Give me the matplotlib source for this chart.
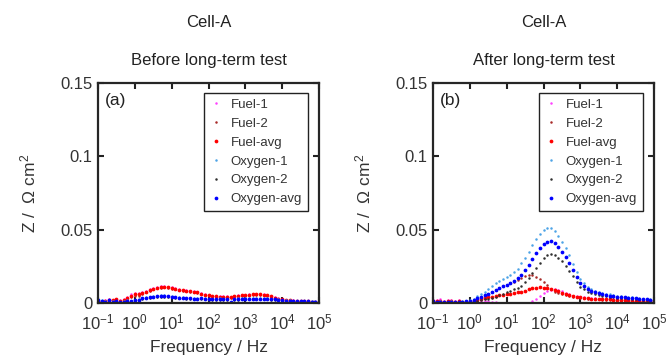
import matplotlib
matplotlib.use("Agg")
import matplotlib.pyplot as plt

plt.rcParams['font.family'] = ['Liberation Sans', 'DejaVu Sans']
plt.rcParams['mathtext.fontset'] = 'custom'
plt.rcParams['mathtext.rm'] = 'Liberation Sans'
plt.rcParams['mathtext.it'] = 'Liberation Sans:italic'
plt.rcParams['mathtext.default'] = 'regular'

# Frequency grid / Hz (10 points per decade)
freq = [0.1, 0.1259, 0.1585, 0.1995, 0.2512, 0.3162, 0.3981, 0.5012, 0.631, 0.7943,
        1.0, 1.259, 1.585, 1.995, 2.512, 3.162, 3.981, 5.012, 6.31, 7.943,
        10, 12.59, 15.85, 19.95, 25.12, 31.62, 39.81, 50.12, 63.1, 79.43,
        100, 125.9, 158.5, 199.5, 251.2, 316.2, 398.1, 501.2, 631, 794.3,
        1000, 1259, 1585, 1995, 2512, 3162, 3981, 5012, 6310, 7943,
        10000, 12590, 15850, 19950, 25120, 31620, 39810, 50120, 63100, 79430,
        100000]

# ---- (a) before long-term test ----
fuel1_a = [0.0016, 0.0011, 0.0019, 0.0026, 0.0023, 0.0029, 0.0020, 0.0027, 0.0043, 0.0058,
           0.0070, 0.0067, 0.0075, 0.0084, 0.0093, 0.0101, 0.0108, 0.0113, 0.0114, 0.0111,
           0.0106, 0.0100, 0.0095, 0.0091, 0.0087, 0.0084, 0.0081, 0.0075, 0.0067, 0.0060,
           0.0055, 0.0051, 0.0048, 0.0047, 0.0046, 0.0045, 0.0041, 0.0051, 0.0053, 0.0055,
           0.0057, 0.0059, 0.0061, 0.0062, 0.0062, 0.0060, 0.0055, 0.0048, 0.0040, 0.0033,
           0.0027, 0.0023, 0.0020, 0.0018, 0.0016, 0.0015, 0.0014, 0.0013, 0.0012, 0.0011,
           0.0010]
fuel2_a = [0.0008, 0.0005, 0.0009, 0.0018, 0.0013, 0.0021, 0.0010, 0.0017, 0.0027, 0.0038,
           0.0050, 0.0049, 0.0061, 0.0072, 0.0083, 0.0093, 0.0100, 0.0105, 0.0106, 0.0103,
           0.0098, 0.0094, 0.0089, 0.0085, 0.0081, 0.0078, 0.0075, 0.0069, 0.0061, 0.0054,
           0.0049, 0.0045, 0.0042, 0.0041, 0.0040, 0.0039, 0.0035, 0.0045, 0.0047, 0.0049,
           0.0051, 0.0053, 0.0055, 0.0056, 0.0056, 0.0054, 0.0049, 0.0042, 0.0034, 0.0027,
           0.0023, 0.0019, 0.0016, 0.0014, 0.0012, 0.0011, 0.0010, 0.0009, 0.0008, 0.0009,
           0.0008]
fuel_avg_a = [0.0012, 0.0008, 0.0014, 0.0022, 0.0018, 0.0025, 0.0015, 0.0022, 0.0035, 0.0048,
              0.0060, 0.0058, 0.0068, 0.0078, 0.0088, 0.0097, 0.0104, 0.0109, 0.0110, 0.0107,
              0.0102, 0.0097, 0.0092, 0.0088, 0.0084, 0.0081, 0.0078, 0.0072, 0.0064, 0.0057,
              0.0052, 0.0048, 0.0045, 0.0044, 0.0043, 0.0042, 0.0038, 0.0048, 0.0050, 0.0052,
              0.0054, 0.0056, 0.0058, 0.0059, 0.0059, 0.0057, 0.0052, 0.0045, 0.0037, 0.0030,
              0.0025, 0.0021, 0.0018, 0.0016, 0.0014, 0.0013, 0.0012, 0.0011, 0.0010, 0.0010,
              0.0009]
oxy1_a = [0.0025, 0.0018, 0.0014, 0.0021, 0.0012, 0.0015, 0.0009, 0.0013, 0.0018, 0.0016,
          0.0022, 0.0024, 0.0036, 0.0039, 0.0042, 0.0046, 0.0049, 0.0052, 0.0052, 0.0050,
          0.0047, 0.0044, 0.0041, 0.0039, 0.0037, 0.0036, 0.0034, 0.0033, 0.0036, 0.0032,
          0.0030, 0.0030, 0.0030, 0.0031, 0.0030, 0.0029, 0.0009, 0.0030, 0.0031, 0.0032,
          0.0033, 0.0034, 0.0034, 0.0034, 0.0034, 0.0033, 0.0032, 0.0030, 0.0027, 0.0024,
          0.0022, 0.0020, 0.0018, 0.0017, 0.0016, 0.0015, 0.0014, 0.0013, 0.0012, 0.0012,
          0.0011]
oxy2_a = [0.0019, 0.0012, 0.0006, 0.0015, 0.0004, 0.0009, 0.0001, 0.0007, 0.0012, 0.0008,
          0.0014, 0.0016, 0.0028, 0.0031, 0.0034, 0.0038, 0.0041, 0.0044, 0.0044, 0.0042,
          0.0039, 0.0036, 0.0033, 0.0031, 0.0029, 0.0028, 0.0026, 0.0025, 0.0028, 0.0024,
          0.0022, 0.0022, 0.0022, 0.0023, 0.0022, 0.0021, 0.0001, 0.0022, 0.0023, 0.0024,
          0.0025, 0.0026, 0.0026, 0.0026, 0.0026, 0.0025, 0.0024, 0.0022, 0.0021, 0.0018,
          0.0016, 0.0014, 0.0012, 0.0011, 0.0010, 0.0009, 0.0010, 0.0009, 0.0008, 0.0008,
          0.0007]
oxy_avg_a = [0.0022, 0.0015, 0.0010, 0.0018, 0.0008, 0.0012, 0.0005, 0.0010, 0.0015, 0.0012,
             0.0018, 0.0020, 0.0032, 0.0035, 0.0038, 0.0042, 0.0045, 0.0048, 0.0048, 0.0046,
             0.0043, 0.0040, 0.0037, 0.0035, 0.0033, 0.0032, 0.0030, 0.0029, 0.0032, 0.0028,
             0.0026, 0.0026, 0.0026, 0.0027, 0.0026, 0.0025, 0.0005, 0.0026, 0.0027, 0.0028,
             0.0029, 0.0030, 0.0030, 0.0030, 0.0030, 0.0029, 0.0028, 0.0026, 0.0024, 0.0021,
             0.0019, 0.0017, 0.0015, 0.0014, 0.0013, 0.0012, 0.0012, 0.0011, 0.0010, 0.0010,
             0.0009]

# ---- (b) after long-term test ----
fuel1_b = [0.0022, 0.0018, 0.0025, 0.0015, 0.0023, 0.0020, 0.0012, 0.0018, 0.0008, 0.0005,
           0.0006, 0.0009, 0.0011, 0.0012, 0.0014, 0.0013, 0.0009, 0.0006, 0.0002, -0.0001,
           -0.0003, -0.0005, -0.0009, -0.0012, -0.0016, -0.0014, -0.0004, 0.0012, 0.0030, 0.0049,
           0.0065, 0.0080, 0.0092, 0.0098, 0.0092, 0.0080, 0.0067, 0.0058, 0.0050, 0.0045,
           0.0041, 0.0038, 0.0035, 0.0033, 0.0031, 0.0030, 0.0029, 0.0028, 0.0027, 0.0025,
           0.0024, 0.0023, 0.0022, 0.0021, 0.0020, 0.0018, 0.0017, 0.0016, 0.0015, 0.0014,
           0.0013]
fuel2_b = [0.0008, 0.0006, 0.0007, 0.0005, 0.0005, 0.0004, 0.0004, 0.0004, 0.0004, 0.0005,
           0.0010, 0.0015, 0.0025, 0.0038, 0.0050, 0.0063, 0.0077, 0.0090, 0.0102, 0.0113,
           0.0123, 0.0133, 0.0145, 0.0158, 0.0172, 0.0184, 0.0190, 0.0188, 0.0180, 0.0165,
           0.0145, 0.0122, 0.0098, 0.0078, 0.0068, 0.0062, 0.0057, 0.0050, 0.0044, 0.0039,
           0.0035, 0.0032, 0.0029, 0.0027, 0.0025, 0.0024, 0.0023, 0.0022, 0.0021, 0.0019,
           0.0018, 0.0017, 0.0016, 0.0015, 0.0014, 0.0012, 0.0011, 0.0010, 0.0009, 0.0008,
           0.0007]
fuel_avg_b = [0.0015, 0.0012, 0.0016, 0.0010, 0.0014, 0.0012, 0.0008, 0.0011, 0.0006, 0.0005,
              0.0008, 0.0012, 0.0018, 0.0025, 0.0032, 0.0038, 0.0043, 0.0048, 0.0052, 0.0056,
              0.0060, 0.0064, 0.0068, 0.0073, 0.0078, 0.0085, 0.0093, 0.0100, 0.0105, 0.0107,
              0.0105, 0.0101, 0.0095, 0.0088, 0.0080, 0.0071, 0.0062, 0.0054, 0.0047, 0.0042,
              0.0038, 0.0035, 0.0032, 0.0030, 0.0028, 0.0027, 0.0026, 0.0025, 0.0024, 0.0022,
              0.0021, 0.0020, 0.0019, 0.0018, 0.0017, 0.0015, 0.0014, 0.0013, 0.0012, 0.0011,
              0.0010]
oxy1_b = [0.0015, 0.0010, 0.0012, 0.0008, 0.0010, 0.0012, 0.0009, 0.0010, 0.0012, 0.0015,
          0.0020, 0.0030, 0.0045, 0.0060, 0.0078, 0.0098, 0.0118, 0.0135, 0.0150, 0.0163,
          0.0175, 0.0190, 0.0208, 0.0235, 0.0270, 0.0310, 0.0350, 0.0395, 0.0435, 0.0470,
          0.0495, 0.0510, 0.0508, 0.0490, 0.0455, 0.0415, 0.0375, 0.0325, 0.0265, 0.0210,
          0.0165, 0.0135, 0.0110, 0.0095, 0.0085, 0.0077, 0.0070, 0.0064, 0.0059, 0.0055,
          0.0051, 0.0047, 0.0044, 0.0041, 0.0038, 0.0035, 0.0032, 0.0030, 0.0027, 0.0025,
          0.0023]
oxy2_b = [0.0008, 0.0005, 0.0003, 0.0006, 0.0004, 0.0002, 0.0005, 0.0003, 0.0004, 0.0006,
          0.0008, 0.0012, 0.0016, 0.0020, 0.0025, 0.0030, 0.0036, 0.0043, 0.0052, 0.0062,
          0.0072, 0.0083, 0.0095, 0.0105, 0.0115, 0.0140, 0.0172, 0.0205, 0.0240, 0.0275,
          0.0305, 0.0325, 0.0334, 0.0328, 0.0310, 0.0285, 0.0255, 0.0220, 0.0182, 0.0145,
          0.0112, 0.0095, 0.0078, 0.0066, 0.0058, 0.0052, 0.0048, 0.0045, 0.0042, 0.0040,
          0.0037, 0.0035, 0.0033, 0.0031, 0.0029, 0.0027, 0.0025, 0.0023, 0.0021, 0.0020,
          0.0018]
oxy_avg_b = [0.0012, 0.0008, 0.0008, 0.0007, 0.0007, 0.0007, 0.0007, 0.0007, 0.0008, 0.0011,
             0.0014, 0.0021, 0.0031, 0.0040, 0.0052, 0.0064, 0.0077, 0.0089, 0.0101, 0.0113,
             0.0124, 0.0137, 0.0152, 0.0170, 0.0193, 0.0225, 0.0261, 0.0300, 0.0338, 0.0373,
             0.0400, 0.0418, 0.0421, 0.0409, 0.0383, 0.0350, 0.0315, 0.0273, 0.0224, 0.0178,
             0.0139, 0.0115, 0.0094, 0.0080, 0.0072, 0.0065, 0.0059, 0.0055, 0.0051, 0.0048,
             0.0044, 0.0041, 0.0039, 0.0036, 0.0034, 0.0031, 0.0029, 0.0027, 0.0024, 0.0023,
             0.0021]

labels = ['Fuel-1', 'Fuel-2', 'Fuel-avg', 'Oxygen-1', 'Oxygen-2', 'Oxygen-avg']
colors = ['#ff40ff', '#a82a28', '#ff0000', '#4da3e6', '#303030', '#0000ff']
sizes = [1.8, 1.8, 2.7, 1.8, 1.8, 2.7]

yticks = [0, 0.05, 0.1, 0.15]
ytick_labels = ['0', '0.05', '0.1', '0.15']
xticks = [0.1, 1, 10, 100, 1000, 10000, 100000]
xtick_labels = ['$10^{-1}$', '$10^{0}$', '$10^{1}$', '$10^{2}$', '$10^{3}$', '$10^{4}$', '$10^{5}$']

panels = [
    ([fuel1_a, fuel2_a, fuel_avg_a, oxy1_a, oxy2_a, oxy_avg_a], '(a)', 'Before long-term test', 98),
    ([fuel1_b, fuel2_b, fuel_avg_b, oxy1_b, oxy2_b, oxy_avg_b], '(b)', 'After long-term test', 433),
]

fig = plt.figure(figsize=(6.67, 3.57), dpi=100)
W, H = 667, 357

for series, tag, subtitle, left_px in panels:
    ax = fig.add_axes([left_px / W, 1 - 303 / H, 221 / W, 220 / H])
    for vals, lab, col, ms in zip(series, labels, colors, sizes):
        ax.plot(freq, vals, linestyle='none', marker='o', markersize=ms,
                markeredgewidth=0, color=col, label=lab)
    ax.set_xscale('log')
    ax.set_xlim(0.1, 1e5)
    ax.set_ylim(0, 0.15)
    ax.set_xticks(xticks)
    ax.set_xticklabels(xtick_labels)
    ax.minorticks_off()
    ax.set_yticks(yticks)
    ax.set_yticklabels(ytick_labels)
    ax.tick_params(direction='in', length=4, width=1.5, top=True, right=True,
                   labelsize=12, colors='#222222', labelcolor='#333333')
    ax.tick_params(axis='x', pad=7)
    ax.tick_params(axis='y', pad=4)
    for sp in ax.spines.values():
        sp.set_linewidth(1.6)
        sp.set_color('#262626')
    ax.set_xlabel('Frequency / Hz', fontsize=12.5, color='#333333', labelpad=5)
    ax.set_ylabel('Z /  \u03a9 cm$^2$', fontsize=12.5, color='#333333', labelpad=16)
    ax.text(0.03, 0.955, tag, transform=ax.transAxes, ha='left', va='top',
            fontsize=12.5, color='#222222')
    ax.text(0.5, 1.10, subtitle, transform=ax.transAxes, ha='center', va='center',
            fontsize=12, color='#222222')
    ax.text(0.5, 1.277, 'Cell-A', transform=ax.transAxes, ha='center', va='center',
            fontsize=12, color='#222222')
    leg = ax.legend(loc='upper right', bbox_to_anchor=(0.95, 0.955), borderaxespad=0,
                    fontsize=9.5, fancybox=False, framealpha=1, edgecolor='#222222',
                    handlelength=1.0, handletextpad=0.6, labelspacing=0.5,
                    borderpad=0.45, markerscale=1.0)
    leg.get_frame().set_linewidth(1.0)
    for t in leg.get_texts():
        t.set_color('#333333')

fig.savefig('out.png', dpi=100)
